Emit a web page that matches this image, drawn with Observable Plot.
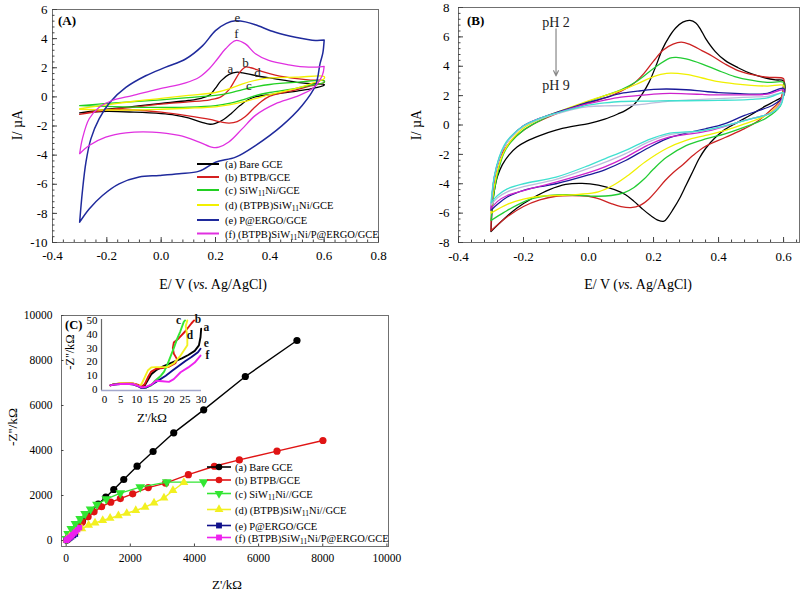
<!DOCTYPE html>
<html><head><meta charset="utf-8">
<script src="https://cdn.jsdelivr.net/npm/d3@7"></script>
<script src="https://cdn.jsdelivr.net/npm/@observablehq/plot@0.6"></script>
<style>
html,body{margin:0;padding:0;background:#fff;}
body{width:800px;height:591px;position:relative;overflow:hidden;}
.pn{position:absolute;}
</style></head><body>
<div id="pA" class="pn" style="left:0;top:0"></div>
<div id="pB" class="pn" style="left:400px;top:0"></div>
<div id="pC" class="pn" style="left:0;top:300px"></div>
<div id="pI" class="pn" style="left:60px;top:305px"></div>
<script>
// ---------------- Panel A data (E / V, I / uA) ----------------
const A_a_up = [[-0.3,-1.1],[-0.2,-0.85],[-0.1,-0.65],[0,-0.45],[0.1,-0.25],[0.15,-0.08],[0.18,0.15],[0.2,0.6],[0.22,1.1],[0.25,1.55],[0.28,1.7],[0.3,1.65],[0.35,1.45],[0.4,1.3],[0.45,1.15],[0.5,1.0],[0.55,0.9],[0.6,0.85]];
const A_a_dn = [[0.6,0.8],[0.55,0.55],[0.5,0.4],[0.45,0.28],[0.4,0.15],[0.35,0.02],[0.32,-0.2],[0.29,-0.6],[0.26,-1.1],[0.23,-1.55],[0.2,-1.82],[0.18,-1.88],[0.15,-1.75],[0.1,-1.45],[0.05,-1.25],[0,-1.15],[-0.1,-1.05],[-0.2,-1.0],[-0.3,-1.1]];
const A_b_up = [[-0.3,-1.2],[-0.2,-0.9],[-0.1,-0.7],[0,-0.5],[0.1,-0.35],[0.18,-0.2],[0.22,0.0],[0.25,0.5],[0.27,1.1],[0.29,1.7],[0.31,2.05],[0.33,2.0],[0.37,1.75],[0.42,1.5],[0.5,1.25],[0.55,1.15],[0.6,1.1]];
const A_b_dn = [[0.6,1.0],[0.55,0.75],[0.5,0.5],[0.45,0.3],[0.4,0.05],[0.37,-0.3],[0.34,-0.8],[0.31,-1.35],[0.28,-1.7],[0.25,-1.8],[0.22,-1.72],[0.18,-1.55],[0.1,-1.3],[0,-1.05],[-0.1,-0.9],[-0.2,-0.9],[-0.3,-1.2]];
const A_c_up = [[-0.3,-0.6],[-0.2,-0.45],[-0.1,-0.32],[0,-0.2],[0.1,-0.05],[0.2,0.1],[0.25,0.25],[0.3,0.5],[0.35,0.7],[0.4,0.85],[0.5,1.0],[0.6,1.1]];
const A_c_dn = [[0.6,1.0],[0.55,0.8],[0.5,0.6],[0.4,0.3],[0.35,0.1],[0.3,-0.2],[0.25,-0.45],[0.2,-0.6],[0.1,-0.7],[0,-0.72],[-0.1,-0.7],[-0.2,-0.65],[-0.3,-0.6]];
const A_d_up = [[-0.3,-0.8],[-0.2,-0.55],[-0.1,-0.3],[0,-0.1],[0.1,0.1],[0.2,0.3],[0.25,0.55],[0.3,0.9],[0.35,1.15],[0.4,1.3],[0.5,1.35],[0.6,1.4]];
const A_d_dn = [[0.6,1.25],[0.55,0.9],[0.5,0.6],[0.4,0.15],[0.35,-0.1],[0.3,-0.35],[0.25,-0.55],[0.2,-0.68],[0.1,-0.78],[0,-0.85],[-0.1,-0.9],[-0.2,-0.9],[-0.3,-0.85]];
const A_e_up = [[-0.3,-8.6],[-0.29,-6.5],[-0.277,-4.5],[-0.259,-2.9],[-0.228,-1.5],[-0.19,-0.4],[-0.13,0.65],[-0.057,1.45],[0.017,2.04],[0.09,2.6],[0.152,3.5],[0.2,4.55],[0.24,5.05],[0.274,5.22],[0.31,5.15],[0.347,4.95],[0.42,4.44],[0.494,4.1],[0.568,3.87],[0.6,3.9]];
const A_e_dn = [[0.6,3.9],[0.595,3.0],[0.585,2.3],[0.568,0.78],[0.519,-0.59],[0.445,-1.97],[0.347,-3.34],[0.274,-4.14],[0.2,-4.49],[0.14,-5.1],[0.066,-5.28],[-0.007,-5.4],[-0.081,-5.5],[-0.155,-5.97],[-0.216,-6.77],[-0.265,-7.7],[-0.3,-8.6]];
const A_f_up = [[-0.3,-3.9],[-0.29,-2.88],[-0.265,-1.5],[-0.228,-0.71],[-0.18,-0.25],[-0.106,0.09],[-0.007,0.55],[0.09,0.96],[0.14,1.35],[0.177,1.93],[0.207,2.6],[0.237,3.3],[0.274,3.87],[0.31,3.64],[0.347,2.96],[0.396,2.5],[0.47,2.2],[0.543,2.04],[0.6,2.1]];
const A_f_dn = [[0.6,2.1],[0.593,1.47],[0.556,0.55],[0.494,0.0],[0.42,-0.48],[0.347,-1.27],[0.298,-2.2],[0.249,-3.1],[0.212,-3.45],[0.19,-3.47],[0.14,-3.1],[0.066,-2.65],[-0.032,-2.42],[-0.13,-2.47],[-0.204,-2.77],[-0.265,-3.34],[-0.3,-3.9]];
const A_names = ["(a) Bare GCE","(b) BTPB/GCE","(c) SiW|11|Ni/GCE","(d) (BTPB)SiW|11|Ni/GCE","(e) P@ERGO/GCE","(f) (BTPB)SiW|11|Ni/P@ERGO/GCE"];
const A_letters = ["a","b","c","d","e","f"];
const A_letterX = [0.255,0.31,0.323,0.355,0.281,0.277];
const A_letterY = [1.95,2.36,0.78,1.67,5.45,4.35];
const A_xTicks = [-0.4,-0.2,0,0.2,0.4,0.6,0.8];
const A_yTicks = [-10,-8,-6,-4,-2,0,2,4,6];

// ---------------- Panel B data (pH 2 ... pH 9) ----------------
const B_pH2_up = [[-0.3,-7.25],[-0.296,-5.6],[-0.29,-4.5],[-0.28,-3.5],[-0.265,-2.7],[-0.245,-2.05],[-0.22,-1.5],[-0.19,-1.1],[-0.15,-0.72],[-0.1,-0.35],[-0.05,-0.1],[0,0.1],[0.05,0.4],[0.09,0.75],[0.114,1.0],[0.14,1.4],[0.165,2.1],[0.186,2.9],[0.207,4.0],[0.227,5.15],[0.248,6.0],[0.268,6.6],[0.29,7.0],[0.312,7.12],[0.33,6.95],[0.345,6.5],[0.36,5.9],[0.39,5.0],[0.42,4.4],[0.46,3.9],[0.5,3.5],[0.545,3.2],[0.575,3.07],[0.6,3.0]];
const B_pH2_dn = [[0.6,2.0],[0.575,1.65],[0.545,1.3],[0.5,0.7],[0.46,0.2],[0.42,-0.3],[0.39,-0.85],[0.36,-1.6],[0.34,-2.3],[0.32,-3.2],[0.3,-4.1],[0.28,-5.0],[0.26,-5.75],[0.245,-6.25],[0.232,-6.55],[0.215,-6.5],[0.19,-6.15],[0.165,-5.7],[0.14,-5.2],[0.114,-4.75],[0.08,-4.4],[0.03,-4.1],[-0.02,-3.98],[-0.07,-4.05],[-0.12,-4.4],[-0.17,-4.95],[-0.22,-5.65],[-0.26,-6.4],[-0.3,-7.25]];
const B_pH3_up = [[-0.3,-7.2],[-0.297,-5.2],[-0.29,-3.9],[-0.282,-2.9],[-0.27,-2.1],[-0.25,-1.4],[-0.22,-0.7],[-0.17,0.05],[-0.1,0.75],[-0.05,1.15],[0,1.5],[0.05,1.85],[0.1,2.3],[0.14,2.85],[0.17,3.5],[0.2,4.35],[0.23,5.1],[0.26,5.5],[0.285,5.64],[0.31,5.5],[0.35,5.05],[0.38,4.7],[0.42,4.15],[0.46,3.7],[0.5,3.45],[0.55,3.25],[0.6,3.15]];
const B_pH3_dn = [[0.6,2.8],[0.59,1.7],[0.56,1.0],[0.52,0.25],[0.48,-0.25],[0.42,-0.85],[0.36,-1.45],[0.32,-2.1],[0.29,-2.7],[0.26,-3.25],[0.235,-3.8],[0.21,-4.45],[0.185,-5.05],[0.16,-5.45],[0.13,-5.62],[0.1,-5.55],[0.07,-5.35],[0.035,-5.05],[0,-4.85],[-0.05,-4.8],[-0.1,-4.85],[-0.15,-5.1],[-0.2,-5.55],[-0.25,-6.25],[-0.3,-7.2]];
const B_pH4_up = [[-0.3,-6.5],[-0.29,-4.5],[-0.275,-2.9],[-0.26,-1.9],[-0.24,-1.2],[-0.2,-0.35],[-0.15,0.3],[-0.1,0.8],[-0.05,1.2],[0,1.6],[0.05,2.0],[0.1,2.4],[0.15,3.0],[0.2,3.85],[0.25,4.55],[0.27,4.6],[0.3,4.5],[0.35,4.15],[0.4,3.7],[0.45,3.3],[0.5,3.05],[0.55,2.9],[0.6,2.9]];
const B_pH4_dn = [[0.6,2.6],[0.59,1.3],[0.545,0.45],[0.48,-0.15],[0.42,-0.6],[0.36,-0.95],[0.3,-1.4],[0.24,-2.2],[0.2,-3.0],[0.17,-3.7],[0.14,-4.25],[0.11,-4.6],[0.07,-4.8],[0.03,-4.85],[-0.02,-4.8],[-0.07,-4.75],[-0.12,-4.8],[-0.17,-5.0],[-0.22,-5.45],[-0.26,-5.95],[-0.3,-6.5]];
const B_pH5_up = [[-0.3,-6.0],[-0.29,-4.2],[-0.275,-2.7],[-0.26,-1.8],[-0.24,-1.1],[-0.2,-0.2],[-0.15,0.4],[-0.1,0.85],[-0.05,1.25],[0,1.65],[0.05,2.0],[0.1,2.35],[0.15,2.8],[0.2,3.3],[0.24,3.52],[0.3,3.45],[0.35,3.2],[0.4,2.95],[0.45,2.8],[0.5,2.7],[0.55,2.65],[0.6,2.7]];
const B_pH5_dn = [[0.6,2.4],[0.59,1.55],[0.545,0.65],[0.48,0.08],[0.42,-0.37],[0.36,-0.71],[0.3,-1.05],[0.24,-1.6],[0.175,-2.5],[0.12,-3.45],[0.076,-4.1],[0.03,-4.55],[-0.03,-4.72],[-0.1,-4.8],[-0.15,-4.85],[-0.2,-5.05],[-0.25,-5.4],[-0.3,-6.0]];
const B_pH6_up = [[-0.3,-5.8],[-0.29,-3.6],[-0.275,-2.3],[-0.26,-1.5],[-0.24,-0.85],[-0.2,-0.05],[-0.15,0.45],[-0.1,0.85],[-0.05,1.2],[0,1.55],[0.05,1.85],[0.1,2.15],[0.15,2.3],[0.2,2.42],[0.24,2.45],[0.3,2.4],[0.35,2.3],[0.4,2.2],[0.45,2.15],[0.5,2.1],[0.55,2.15],[0.6,2.5]];
const B_pH6_dn = [[0.6,2.0],[0.59,1.7],[0.565,1.33],[0.48,0.65],[0.42,0.1],[0.36,-0.26],[0.3,-0.55],[0.24,-0.94],[0.18,-1.6],[0.114,-2.42],[0.05,-3.05],[0,-3.4],[-0.1,-4.0],[-0.15,-4.2],[-0.2,-4.45],[-0.25,-4.9],[-0.28,-5.4],[-0.3,-5.8]];
const B_pH7_up = [[-0.3,-5.7],[-0.29,-3.6],[-0.275,-2.3],[-0.26,-1.5],[-0.24,-0.85],[-0.2,-0.05],[-0.15,0.45],[-0.1,0.8],[-0.05,1.15],[0,1.45],[0.05,1.7],[0.1,1.9],[0.15,2.0],[0.2,2.1],[0.25,2.15],[0.3,2.12],[0.35,2.08],[0.4,2.05],[0.45,2.05],[0.5,2.05],[0.55,2.1],[0.6,2.4]];
const B_pH7_dn = [[0.6,2.2],[0.59,1.5],[0.565,0.87],[0.48,0.31],[0.36,-0.44],[0.24,-0.87],[0.18,-1.4],[0.114,-2.2],[0.05,-2.85],[0,-3.25],[-0.1,-3.89],[-0.2,-4.46],[-0.25,-4.8],[-0.28,-5.2],[-0.3,-5.7]];
const B_pH8_up = [[-0.3,-5.45],[-0.29,-3.6],[-0.275,-2.3],[-0.26,-1.5],[-0.24,-0.9],[-0.2,-0.1],[-0.15,0.4],[-0.1,0.75],[-0.05,1.05],[0,1.25],[0.05,1.3],[0.1,1.32],[0.15,1.38],[0.2,1.5],[0.25,1.62],[0.3,1.7],[0.35,1.75],[0.4,1.8],[0.45,1.85],[0.5,1.9],[0.55,1.95],[0.6,2.2]];
const B_pH8_dn = [[0.6,2.1],[0.59,1.4],[0.565,0.85],[0.48,0.31],[0.36,-0.37],[0.24,-0.7],[0.18,-1.2],[0.114,-1.95],[0.05,-2.55],[0,-2.95],[-0.1,-3.7],[-0.2,-4.2],[-0.25,-4.55],[-0.28,-4.95],[-0.3,-5.45]];
const B_pH9_up = [[-0.3,-5.3],[-0.29,-3.5],[-0.275,-2.2],[-0.26,-1.4],[-0.24,-0.8],[-0.2,-0.05],[-0.15,0.45],[-0.1,0.8],[-0.05,1.1],[0,1.35],[0.05,1.5],[0.1,1.6],[0.15,1.62],[0.2,1.63],[0.25,1.65],[0.3,1.65],[0.35,1.66],[0.4,1.68],[0.45,1.7],[0.5,1.75],[0.55,1.85],[0.6,2.2]];
const B_pH9_dn = [[0.6,2.0],[0.59,1.3],[0.565,0.85],[0.48,0.3],[0.36,-0.35],[0.24,-0.6],[0.18,-1.05],[0.114,-1.73],[0.05,-2.3],[0,-2.76],[-0.1,-3.55],[-0.2,-4.0],[-0.25,-4.35],[-0.28,-4.8],[-0.3,-5.3]];
const B_notes = ["pH 2","pH 9"];
const B_noteX = [-0.1,-0.1];
const B_noteY = [7.0,2.7];
const B_arrow = [{x:-0.1, from:6.55, to:3.35}];
const B_xTicks = [-0.4,-0.2,0,0.2,0.4,0.6];
const B_yTicks = [-8,-6,-4,-2,0,2,4,6,8];

// ---------------- Panel C data (Z' / kOhm, -Z'' / kOhm) ----------------
const C_a = [[15,20],[35,50],[60,90],[90,140],[130,210],[180,300],[240,410],[310,540],[400,690],[510,870],[640,1080],[800,1330],[1000,1620],[1236,1926],[1485,2267],[1796,2711],[2212,3304],[2710,3956],[3354,4785],[4288,5807],[5586,7289],[7196,8889]];
const C_b = [[20,40],[90,170],[200,370],[335,593],[500,815],[685,1050],[870,1275],[1105,1500],[1390,1704],[1690,1865],[2075,2074],[2560,2350],[3100,2548],[3810,2925],[4620,3300],[5400,3580],[6573,3970],[8006,4444]];
const C_c = [[10,80],[60,296],[160,519],[290,741],[436,963],[590,1185],[760,1390],[960,1600],[1250,1840],[1690,2104],[2310,2370],[3137,2593],[4287,2593]];
const C_d = [[20,40],[110,180],[290,370],[490,530],[700,680],[900,780],[1140,890],[1370,990],[1630,1100],[1890,1210],[2170,1333],[2460,1480],[2740,1670],[3050,1890],[3330,2222],[3670,2580]];
const C_e = [[5,5],[20,15],[45,35],[80,70],[120,110],[170,160],[230,220],[290,280]];
const C_f = [[2,3],[10,12],[25,30],[50,60],[80,100],[120,150],[160,200],[200,260],[250,330],[300,400],[360,480],[420,570]];
const C_names = ["(a) Bare GCE","(b) BTPB/GCE","(c) SiW|11|Ni//GCE","(d) (BTPB)SiW|11|Ni//GCE","(e) P@ERGO/GCE","(f) (BTPB)SiW|11|Ni/P@ERGO/GCE"];
const C_xTicks = [0,2000,4000,6000,8000,10000];
const C_yTicks = [0,2000,4000,6000,8000,10000];
// inset (zoom of the high-frequency region)
const I_a = [[1.8,3],[3,3.8],[5,4.2],[7,4.3],[9,4],[10.5,3],[11.5,1.5],[12.5,3],[13.5,7],[14.5,11],[16,14],[18,16.5],[20,18.5],[22,20.5],[24,22.5],[26,25],[28,28],[29.3,32],[29.8,38],[30,44]];
const I_b = [[1.8,3],[3,3.9],[5,4.4],[7,4.6],[9,4.3],[10.5,3.3],[11.5,2],[12.5,4],[13.5,9],[14.5,13],[16,15],[18,15.5],[20,16.5],[22,19],[22.5,22],[21.5,26],[21.2,30],[21.5,34],[23,37],[25,42],[27,48],[27.8,50]];
const I_c = [[11.5,1],[13,1.5],[14.5,3],[15.5,6],[16.5,8],[17.5,10],[18.5,13],[19.5,18],[20.5,24],[21.5,30],[22.5,36.5],[23.5,42],[24.6,49],[25,50]];
const I_d = [[1.8,3],[3,3.9],[5,4.5],[7,4.6],[9,4.2],[10.5,2.5],[11.5,4],[12.5,9],[13.5,14],[14.5,16],[16,16.2],[18,16.2],[19.5,16.3],[21.5,19],[23.6,24.6],[25.7,32],[25.7,37],[25.5,41.5],[25.2,46],[25.7,50]];
const I_e = [[1.8,3],[3,3.6],[5,4],[7,4.1],[9,3.6],[10.5,2.3],[11.5,1],[13,1.5],[15,4],[17,7],[19,10],[21,13.5],[23,17],[25,20.5],[27,23.5],[29,27],[29.8,29.5]];
const I_f = [[1.8,3],[3,3.5],[5,4],[7,4.2],[9,3.8],[10.5,2.5],[11.5,1.5],[13,2],[14.5,3.5],[16,6.3],[18,6],[20,5.5],[21.5,7.5],[23.6,12.5],[26,16],[28,19.5],[29.8,24.6]];
const I_letters = ["a","b","c","d","e","f"];
const I_letterX = [31.6,29.0,23.0,26.5,31.6,31.9];
const I_letterY = [45,51,50,39.4,33.5,24.8];
const I_xTicks = [0,5,10,15,20,25,30];
const I_yTicks = [0,10,20,30,40,50];

// ---------------- styles ----------------
const FONT = '"Liberation Serif","Times New Roman",serif';
const colA = ["#000000","#d42020","#22d022","#f2f000","#1f2a9c","#e030e0"];
const colB = ["#000000","#cc2222","#22cc33","#f0f000","#1a1a99","#cc22cc","#bdbddb","#40e0d0"];
const colC = ["#000000","#e01414","#33e633","#f2f020","#10108a","#ee22ee"];
const triDown = {draw(ctx, size){ const y = -Math.sqrt(size/(Math.sqrt(3)*3)); const s = Math.sqrt(3);
  ctx.moveTo(0,-y*2); ctx.lineTo(-s*y, y); ctx.lineTo(s*y, y); ctx.closePath(); }};
const symC = ["circle","circle",triDown,"triangle","square","square"];

const X = d => d[0], Y = d => d[1];
function range(a,b,s){ const n=Math.round((b-a)/s); return d3.range(n+1).map(i=>+(a+i*s).toFixed(6)); }
function inTicks(xd, yd, iw, ih, xMaj, xMin, yMaj, yMin, majL, minL){
  const ux=(xd[1]-xd[0])/iw, uy=(yd[1]-yd[0])/ih, st="#444", m=[];
  const inX = v => v>=xd[0] && v<=xd[1], inY = v => v>=yd[0] && v<=yd[1];
  if (xMin) m.push(Plot.ruleX(xMin.filter(inX), {x:d=>d, y1:yd[0], y2:yd[0]+minL*uy, stroke:st}));
  m.push(Plot.ruleX(xMaj.filter(inX), {x:d=>d, y1:yd[0], y2:yd[0]+majL*uy, stroke:st}));
  if (yMin) m.push(Plot.ruleY(yMin.filter(inY), {y:d=>d, x1:xd[0], x2:xd[0]+minL*ux, stroke:st}));
  m.push(Plot.ruleY(yMaj.filter(inY), {y:d=>d, x1:xd[0], x2:xd[0]+majL*ux, stroke:st}));
  return m;
}
const baseStyle = {fontFamily: FONT, background:"transparent", overflow:"visible", color:"#000"};

// ---------------- Panel A ----------------
{
  const w=400,h=300,m={l:52,r:22,t:9,b:58}, xd=[-0.4,0.8], yd=[-10,6];
  const loops=[[A_a_up,A_a_dn],[A_b_up,A_b_dn],[A_c_up,A_c_dn],[A_d_up,A_d_dn],[A_e_up,A_e_dn],[A_f_up,A_f_dn]];
  const lab = A_letters.map((t,i)=>({t, x:A_letterX[i], y:A_letterY[i]}));
  const p = Plot.plot({width:w,height:h,marginLeft:m.l,marginRight:m.r,marginTop:m.t,marginBottom:m.b,
    x:{domain:xd}, y:{domain:yd}, style:{...baseStyle, fontSize:"13px"},
    marks:[
      Plot.frame({stroke:"#707070"}),
      ...inTicks(xd,yd,w-m.l-m.r,h-m.t-m.b,A_xTicks,range(-0.4,0.8,0.04),A_yTicks,range(-10,6,0.4),5,2.5),
      Plot.axisX(A_xTicks,{tickSize:0,tickPadding:8,tickFormat:d=>d.toFixed(1),label:null,fontSize:13}),
      Plot.axisY(A_yTicks,{tickSize:0,tickPadding:5,tickFormat:d=>String(d),label:null,fontSize:13}),
      ...loops.map((l,i)=>Plot.line(l[0].concat(l[1]),{x:X,y:Y,stroke:colA[i],strokeWidth:i===4?1.5:1.3,curve:"catmull-rom"})),
      Plot.text(lab,{x:"x",y:"y",text:"t",fontSize:13,fill:"#222"})
    ]});
  document.getElementById("pA").appendChild(p);
}
// ---------------- Panel B ----------------
{
  const w=400,h=300,m={l:58,r:1,t:7,b:58}, xd=[-0.4,0.649], yd=[-8,8];
  const loops=[[B_pH2_up,B_pH2_dn],[B_pH3_up,B_pH3_dn],[B_pH4_up,B_pH4_dn],[B_pH5_up,B_pH5_dn],[B_pH6_up,B_pH6_dn],[B_pH7_up,B_pH7_dn],[B_pH8_up,B_pH8_dn],[B_pH9_up,B_pH9_dn]];
  const notes = B_notes.map((t,i)=>({t,x:B_noteX[i],y:B_noteY[i]}));
  const p = Plot.plot({width:w,height:h,marginLeft:m.l,marginRight:m.r,marginTop:m.t,marginBottom:m.b,
    x:{domain:xd}, y:{domain:yd}, style:{...baseStyle, fontSize:"13px"},
    marks:[
      Plot.frame({stroke:"#707070"}),
      ...inTicks(xd,yd,w-m.l-m.r,h-m.t-m.b,B_xTicks,range(-0.4,0.64,0.04),B_yTicks,range(-8,8,0.4),5,2.5),
      Plot.axisX(B_xTicks,{tickSize:0,tickPadding:9,tickFormat:d=>d.toFixed(1),label:null,fontSize:13}),
      Plot.axisY(B_yTicks,{tickSize:0,tickPadding:9,tickFormat:d=>String(d),label:null,fontSize:13}),
      ...loops.map((l,i)=>Plot.line(l[0].concat(l[1]),{x:X,y:Y,stroke:colB[i],strokeWidth:1.3,curve:"catmull-rom"})),
      Plot.arrow(B_arrow,{x1:"x",x2:"x",y1:"from",y2:"to",stroke:"#888",strokeWidth:1.2,headLength:7,headAngle:50}),
      Plot.text(notes,{x:"x",y:"y",text:"t",fontSize:14,fill:"#222"})
    ]});
  document.getElementById("pB").appendChild(p);
}
// ---------------- Panel C ----------------
{
  const w=400,h=291,m={l:61,r:12,t:15,b:45}, xd=[-145,10050], yd=[-267,10000];
  const ser=[C_a,C_b,C_c,C_d,C_e,C_f];
  const rs=[3.6,3.6,3.6,3.3,3,3];
  const p = Plot.plot({width:w,height:h,marginLeft:m.l,marginRight:m.r,marginTop:m.t,marginBottom:m.b,
    x:{domain:xd}, y:{domain:yd}, style:{...baseStyle, fontSize:"11.5px"},
    marks:[
      Plot.frame({stroke:"#707070"}),
      ...inTicks(xd,yd,w-m.l-m.r,h-m.t-m.b,C_xTicks,null,C_yTicks,null,2.5,2),
      Plot.axisX(C_xTicks,{tickSize:0,tickPadding:7,tickFormat:d=>String(d),label:null,fontSize:11.5}),
      Plot.axisY(C_yTicks,{tickSize:0,tickPadding:9,tickFormat:d=>String(d),label:null,fontSize:11.5}),
      ...ser.flatMap((s,i)=>[
        Plot.line(s,{x:X,y:Y,stroke:colC[i],strokeWidth:1.4}),
        Plot.dot(s,{x:X,y:Y,fill:colC[i],r:rs[i],symbol:symC[i]})
      ])
    ]});
  document.getElementById("pC").appendChild(p);
}
// ---------------- Inset ----------------
{
  const w=150,h=125,m={l:41,r:9,t:14,b:40}, xd=[-0.95,30.1], yd=[-0.72,50.7];
  const ser=[I_a,I_b,I_c,I_d,I_e,I_f];
  const lab = I_letters.map((t,i)=>({t,x:I_letterX[i],y:I_letterY[i]}));
  const p = Plot.plot({width:w,height:h,marginLeft:m.l,marginRight:m.r,marginTop:m.t,marginBottom:m.b,
    x:{domain:xd}, y:{domain:yd}, style:{...baseStyle, fontSize:"11px"},
    marks:[
      Plot.ruleX([xd[0]],{stroke:"#666",strokeWidth:1.2}),
      Plot.ruleY([yd[0]],{stroke:"#a4a8cc",strokeWidth:1.5}),
      Plot.axisX(I_xTicks,{tickSize:0,tickPadding:5,tickFormat:d=>String(d),label:null,fontSize:11}),
      Plot.axisY(I_yTicks,{tickSize:0,tickPadding:4,tickFormat:d=>String(d),label:null,fontSize:11}),
      ...ser.map((s,i)=>Plot.line(s,{x:X,y:Y,stroke:colC[i],strokeWidth:1.9})),
      Plot.text(lab,{x:"x",y:"y",text:"t",fontSize:11.5,fontWeight:"bold",fill:"#111"})
    ]});
  document.getElementById("pI").appendChild(p);
}

// ---------------- text overlay: titles, panel letters, legends ----------------
const ov = d3.select("body").append("svg").attr("width",800).attr("height",591)
  .style("position","absolute").style("left",0).style("top",0).style("pointer-events","none")
  .style("font-family",FONT);
function addText(x,y,str,o={}){
  const size=o.size||13;
  const t=ov.append("text").attr("x",x).attr("y",y).attr("font-size",size)
    .attr("text-anchor",o.anchor||"start").attr("dominant-baseline","central")
    .attr("font-weight",o.weight||"normal").attr("fill","#000");
  if(o.rotate) t.attr("transform",`rotate(${o.rotate},${x},${y})`);
  const toks=str.split(/(\|[^|]*\||~[^~]*~)/).filter(s=>s.length);
  let sh=0;
  for(const tk of toks){
    const ts=t.append("tspan");
    if(tk[0]==="|"){ ts.text(tk.slice(1,-1)).attr("font-size",size*0.72).attr("dy",size*0.32-sh); sh=size*0.32; }
    else { ts.text(tk[0]==="~"?tk.slice(1,-1):tk); if(tk[0]==="~") ts.attr("font-style","italic"); if(sh){ ts.attr("dy",-sh); sh=0; } }
  }
}
// Panel A
addText(58,20,"(A)",{size:13,weight:"bold"});
addText(213,284,"E/ V (~vs.~ Ag/AgCl)",{size:14,anchor:"middle"});
addText(17,125,"I/ µA",{size:14,anchor:"middle",rotate:-90});
const A_rowY=[164,177,190,205,220,233.5];
A_names.forEach((n,i)=>{
  ov.append("line").attr("x1",197).attr("x2",219).attr("y1",A_rowY[i]).attr("y2",A_rowY[i]).attr("stroke",colA[i]).attr("stroke-width",2);
  addText(225,A_rowY[i],n,{size:10.5});
});
// Panel B
addText(467,20,"(B)",{size:13,weight:"bold"});
addText(638,284,"E/ V (~vs.~ Ag/AgCl)",{size:14,anchor:"middle"});
addText(416,125,"I/ µA",{size:14,anchor:"middle",rotate:-90});
// Panel C
addText(65,325,"(C)",{size:12.5,weight:"bold"});
addText(227,584,"Z'/kΩ",{size:13,anchor:"middle"});
addText(12,427,"-Z''/kΩ",{size:13.5,anchor:"middle",rotate:-90});
addText(152,417,"Z'/kΩ",{size:13,anchor:"middle"});
addText(70,352,"-Z''/kΩ",{size:12.5,anchor:"middle",rotate:-90});
const C_rowY=[467,480,493.5,509.5,525.5,537.5];
const symObj=[d3.symbolCircle,d3.symbolCircle,triDown,d3.symbolTriangle,d3.symbolSquare,d3.symbolSquare];
C_names.forEach((n,i)=>{
  ov.append("line").attr("x1",207).attr("x2",231).attr("y1",C_rowY[i]).attr("y2",C_rowY[i]).attr("stroke",colC[i]).attr("stroke-width",1.6);
  ov.append("path").attr("d",d3.symbol(symObj[i],Math.PI*3.3*3.3)()).attr("transform",`translate(219,${C_rowY[i]})`).attr("fill",colC[i]);
  addText(235,C_rowY[i],n,{size:10.5});
});
</script>
</body></html>
